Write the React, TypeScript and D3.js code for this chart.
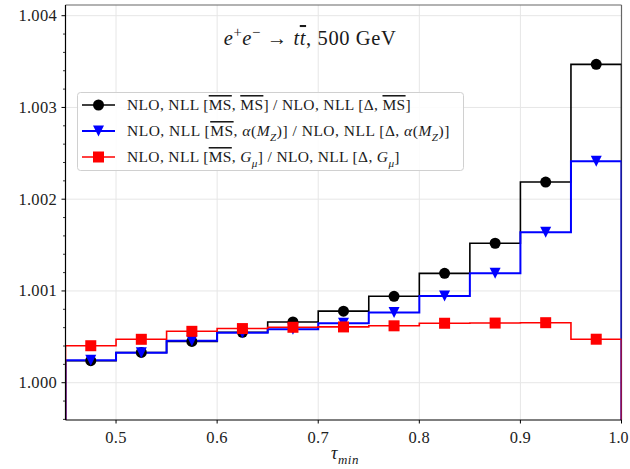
import React from "react";
import * as d3 from "d3";

const binEdges = [0.45, 0.5, 0.55, 0.6, 0.65, 0.7, 0.75, 0.8, 0.85, 0.9, 0.95, 1.0];
const binCenters = [0.475, 0.525, 0.575, 0.625, 0.675, 0.725, 0.775, 0.825, 0.875, 0.925, 0.975];
const ratioMSbar = [1.00024, 1.00033, 1.00045, 1.00055, 1.000662, 1.00078, 1.000942, 1.001192, 1.00152, 1.002187, 1.00347];
const ratioAlphaMZ = [1.000244, 1.000327, 1.000458, 1.000545, 1.000582, 1.000647, 1.000765, 1.000945, 1.001192, 1.001639, 1.002413];
const ratioGmu = [1.000403, 1.000473, 1.00056, 1.00059, 1.000604, 1.000608, 1.00062, 1.000648, 1.00065, 1.000654, 1.000474];
const xTicks = [0.5, 0.6, 0.7, 0.8, 0.9, 1.0];
const yTicks = [1.0, 1.001, 1.002, 1.003, 1.004];

type Seg = { t: string; it?: boolean; over?: boolean; sub?: boolean; sup?: boolean };

const legendLabels: Seg[][] = [
  [
    { t: "NLO, NLL [" }, { t: "MS", over: true }, { t: ", " }, { t: "MS", over: true },
    { t: "] / NLO, NLL [Δ, " }, { t: "MS", over: true }, { t: "]" },
  ],
  [
    { t: "NLO, NLL [" }, { t: "MS", over: true }, { t: ", " }, { t: "α", it: true }, { t: "(" },
    { t: "M", it: true }, { t: "Z", it: true, sub: true }, { t: ")] / NLO, NLL [Δ, " }, { t: "α", it: true },
    { t: "(" }, { t: "M", it: true }, { t: "Z", it: true, sub: true }, { t: ")]" },
  ],
  [
    { t: "NLO, NLL [" }, { t: "MS", over: true }, { t: ", " }, { t: "G", it: true }, { t: "μ", it: true, sub: true },
    { t: "] / NLO, NLL [Δ, " }, { t: "G", it: true }, { t: "μ", it: true, sub: true }, { t: "]" },
  ],
];

const titleSegs: Seg[] = [
  { t: "e", it: true }, { t: "+", sup: true }, { t: "e", it: true }, { t: "−", sup: true },
  { t: " → " }, { t: "t", it: true }, { t: "t", it: true, over: true }, { t: ", 500 GeV" },
];

const seriesList = [
  { name: "ms", values: ratioMSbar, color: "#000000", width: 1.6, marker: "circle" },
  { name: "az", values: ratioAlphaMZ, color: "#0000ff", width: 2, marker: "tri" },
  { name: "gm", values: ratioGmu, color: "#ff0000", width: 1.6, marker: "square" },
];

const W = 630, H = 469;
const L = 65.5, R = 621.5, T = 5, B = 420;
const FONT = "'Liberation Serif', 'DejaVu Serif', serif";

function SegText({ segs, x, y, size, anchor, spacing }: { segs: Seg[]; x: number; y: number; size: number; anchor?: string; spacing?: number }) {
  const out: React.ReactNode[] = [];
  let shift = 0;
  segs.forEach((s, i) => {
    let target = 0;
    if (s.sub) target = size * 0.3;
    if (s.sup) target = -size * 0.38;
    const dy = target - shift;
    shift = target;
    out.push(
      <tspan
        key={i}
        dy={dy}
        fontStyle={s.it ? "italic" : "normal"}
        fontSize={s.sub || s.sup ? size * 0.72 : size}
        style={s.over ? { textDecoration: "overline" } : undefined}
      >
        {s.t}
      </tspan>
    );
  });
  return (
    <text x={x} y={y} fontSize={size} fontFamily={FONT} textAnchor={anchor || "start"} fill="#1a1a1a" letterSpacing={spacing || 0} style={{ whiteSpace: "pre" }}>
      {out}
    </text>
  );
}

function Marker({ kind, x, y, color }: { kind: string; x: number; y: number; color: string }) {
  const r = 5.5;
  if (kind === "circle") return <circle cx={x} cy={y} r={r} fill={color} />;
  if (kind === "square") return <rect x={x - r} y={y - r} width={2 * r} height={2 * r} fill={color} />;
  return <path d={`M${x - r},${y - r}L${x + r},${y - r}L${x},${y + r}Z`} fill={color} />;
}

export default function App() {
  const x = d3.scaleLinear().domain([0.45, 1.0]).range([L, R]);
  const y = d3.scaleLinear().domain([0.9995935, 1.0041166]).range([B, T]);
  const base = 0.999;
  const line = d3
    .line<[number, number]>()
    .x((d) => x(d[0]))
    .y((d) => y(d[1]))
    .curve(d3.curveStepAfter);

  const stepPts = (vals: number[]): [number, number][] => {
    const pts: [number, number][] = [[binEdges[0], base]];
    vals.forEach((v, i) => pts.push([binEdges[i], v]));
    pts.push([binEdges[binEdges.length - 1], vals[vals.length - 1]]);
    pts.push([binEdges[binEdges.length - 1], base]);
    return pts;
  };

  const yMinor = d3.range(0.9996, 1.0041, 0.0002).filter((v) => !yTicks.some((t) => Math.abs(t - v) < 1e-7));

  return (
    <svg width={W} height={H} style={{ position: "absolute", left: 0, top: 0, background: "#fff" }}>
      <defs>
        <clipPath id="plotclip">
          <rect x={L} y={T} width={R - L} height={B - T} />
        </clipPath>
      </defs>
      <rect x={0} y={0} width={W} height={H} fill="#fff" />
      {/* grid */}
      {xTicks.map((t) => (
        <line key={"gx" + t} x1={x(t)} x2={x(t)} y1={T} y2={B} stroke="#e6e6e6" strokeWidth={1} />
      ))}
      {yTicks.map((t) => (
        <line key={"gy" + t} x1={L} x2={R} y1={y(t)} y2={y(t)} stroke="#e6e6e6" strokeWidth={1} />
      ))}
      {/* title */}
      <SegText segs={titleSegs} x={310} y={45} size={20.5} anchor="middle" spacing={0.6} />
      {/* right spine (behind the step drops) */}
      <line x1={R} x2={R} y1={T} y2={B} stroke="#666" strokeWidth={1.2} />
      {/* series */}
      <g clipPath="url(#plotclip)">
        {seriesList.map((s) => (
          <path key={s.name} d={line(stepPts(s.values)) || ""} fill="none" stroke={s.color} strokeWidth={s.width} />
        ))}
        {seriesList.map((s) =>
          s.values.map((v, i) => <Marker key={s.name + i} kind={s.marker} x={x(binCenters[i])} y={y(v)} color={s.color} />)
        )}
      </g>
      {/* spines */}
      <line x1={L} x2={R} y1={T} y2={T} stroke="#666" strokeWidth={1.2} />
      <line x1={L} x2={L} y1={T} y2={B} stroke="#000" strokeWidth={1.2} />
      <line x1={L} x2={R} y1={B} y2={B} stroke="#000" strokeWidth={1.2} />
      {/* x ticks */}
      {xTicks.map((t, i) => {
        const last = i === xTicks.length - 1;
        return (
          <g key={"xt" + t}>
            <line x1={x(t)} x2={x(t)} y1={B} y2={B + 3.5} stroke="#000" strokeWidth={1} />
            <text x={last ? x(t) - 3 : x(t)} y={443} fontSize={last ? 16 : 16.5} fontFamily={FONT} textAnchor="middle" fill="#222" letterSpacing={last ? 0 : 0.3}>
              {d3.format(".1f")(t)}
            </text>
          </g>
        );
      })}
      {/* y ticks */}
      {yTicks.map((t) => (
        <g key={"yt" + t}>
          <line x1={L - 4} x2={L} y1={y(t)} y2={y(t)} stroke="#000" strokeWidth={1} />
          <text x={57} y={y(t) + 5.5} fontSize={16.5} fontFamily={FONT} textAnchor="end" fill="#222" letterSpacing={0.3}>
            {d3.format(".3f")(t)}
          </text>
        </g>
      ))}
      {yMinor.map((t) => (
        <line key={"ym" + t} x1={L - 2.5} x2={L} y1={y(t)} y2={y(t)} stroke="#000" strokeWidth={0.8} />
      ))}
      {/* x label */}
      <SegText segs={[{ t: "τ", it: true }, { t: "min", it: true, sub: true }]} x={345} y={459} size={18} anchor="middle" spacing={0.5} />
      {/* legend */}
      <rect x={77.5} y={92.5} width={386} height={78} rx={3} fill="#fff" fillOpacity={0.85} stroke="#d0d0d0" strokeWidth={1} />
      {seriesList.map((s, i) => {
        const cy = 105 + i * 26;
        return (
          <g key={"lg" + s.name}>
            <line x1={82} x2={115} y1={cy} y2={cy} stroke={s.color} strokeWidth={s.width} />
            <Marker kind={s.marker} x={98.5} y={cy} color={s.color} />
            <SegText segs={legendLabels[i]} x={127} y={cy + 5} size={15.5} spacing={i === 1 ? 0.5 : 0.35} />
          </g>
        );
      })}
    </svg>
  );
}
